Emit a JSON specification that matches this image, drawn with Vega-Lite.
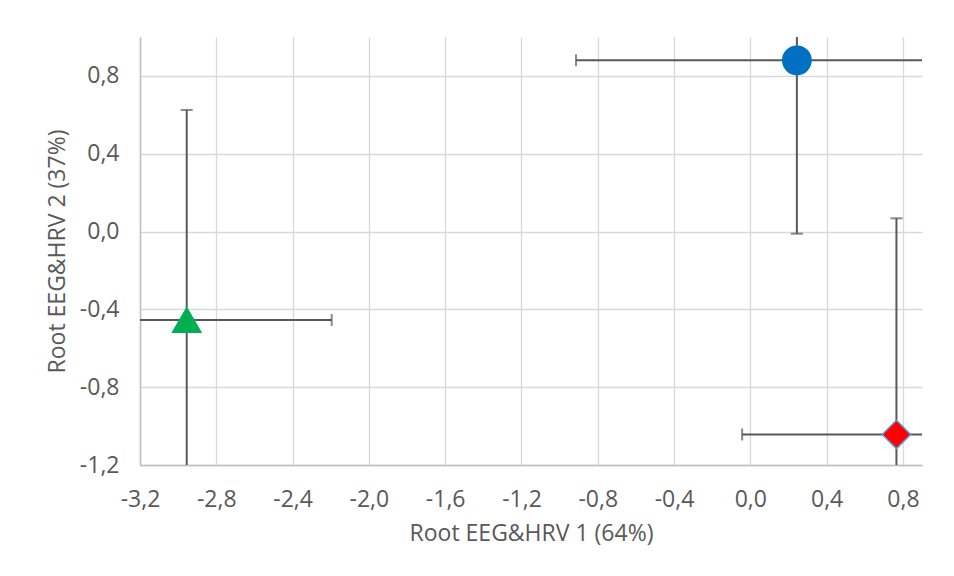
{
  "$schema": "https://vega.github.io/schema/vega-lite/v6.json",
  "width": 782,
  "height": 428,
  "autosize": {"type": "none"},
  "padding": {"left": 140, "top": 37, "right": 32, "bottom": 111},
  "background": "#ffffff",
  "config": {
    "view": {"stroke": null},
    "font": "Open Sans",
    "axis": {
      "labelFont": "Open Sans",
      "titleFont": "Open Sans",
      "labelFontSize": 23,
      "titleFontSize": 23,
      "titleFontWeight": "normal",
      "labelColor": "#595959",
      "titleColor": "#595959",
      "gridColor": "#D9D9D9",
      "gridWidth": 1.3,
      "domainColor": "#BFBFBF",
      "domainWidth": 1.5,
      "ticks": false,
      "labelFlush": false,
      "labelOverlap": false
    }
  },
  "data": {
    "values": [
      {"group": "A", "x": 0.244, "y": 0.88, "xlo": -0.914, "xhi": 1.402, "ylo": -0.011, "yhi": 1.771},
      {"group": "B", "x": 0.766, "y": -1.043, "xlo": -0.043, "xhi": 1.575, "ylo": -2.154, "yhi": 0.068},
      {"group": "C", "x": -2.955, "y": -0.455, "xlo": -3.715, "xhi": -2.195, "ylo": -1.535, "yhi": 0.625}
    ]
  },
  "encoding": {
    "x": {
      "field": "x", "type": "quantitative",
      "scale": {"domain": [-3.2, 0.9], "nice": false, "zero": false},
      "axis": {
        "title": "Root EEG&HRV 1 (64%)",
        "values": [-3.2, -2.8, -2.4, -2.0, -1.6, -1.2, -0.8, -0.4, 0, 0.4, 0.8],
        "labelExpr": "replace(replace(format(datum.value, '.1f'), '.', ','), '\u2212', '-')",
        "labelPadding": 23,
        "titlePadding": 11
      }
    },
    "y": {
      "field": "y", "type": "quantitative",
      "scale": {"domain": [-1.2, 1.0], "nice": false, "zero": false},
      "axis": {
        "title": "Root EEG&HRV 2 (37%)",
        "values": [-1.2, -0.8, -0.4, 0, 0.4, 0.8],
        "labelExpr": "replace(replace(format(datum.value, '.1f'), '.', ','), '\u2212', '-')",
        "labelPadding": 21,
        "titlePadding": 10
      }
    }
  },
  "layer": [
    {
      "mark": {"type": "rule", "color": "#595959", "strokeWidth": 2, "clip": true},
      "encoding": {"x": {"field": "xlo", "type": "quantitative"}, "x2": {"field": "xhi"}}
    },
    {
      "mark": {"type": "rule", "color": "#595959", "strokeWidth": 2, "clip": true},
      "encoding": {"y": {"field": "ylo", "type": "quantitative"}, "y2": {"field": "yhi"}}
    },
    {
      "mark": {"type": "tick", "color": "#595959", "orient": "vertical", "size": 12, "thickness": 2, "clip": true},
      "encoding": {"x": {"field": "xlo", "type": "quantitative"}}
    },
    {
      "mark": {"type": "tick", "color": "#595959", "orient": "vertical", "size": 12, "thickness": 2, "clip": true},
      "encoding": {"x": {"field": "xhi", "type": "quantitative"}}
    },
    {
      "mark": {"type": "tick", "color": "#595959", "orient": "horizontal", "size": 12, "thickness": 2, "clip": true},
      "encoding": {"y": {"field": "ylo", "type": "quantitative"}}
    },
    {
      "mark": {"type": "tick", "color": "#595959", "orient": "horizontal", "size": 12, "thickness": 2, "clip": true},
      "encoding": {"y": {"field": "yhi", "type": "quantitative"}}
    },
    {
      "mark": {"type": "point", "filled": true, "opacity": 1, "size": 800, "strokeWidth": 1.5},
      "encoding": {
        "shape": {"field": "group", "type": "nominal", "scale": {"domain": ["A", "B", "C"], "range": ["circle", "diamond", "triangle-up"]}, "legend": null},
        "fill": {"field": "group", "type": "nominal", "scale": {"domain": ["A", "B", "C"], "range": ["#0070C0", "#FF0000", "#00B050"]}, "legend": null},
        "stroke": {"field": "group", "type": "nominal", "scale": {"domain": ["A", "B", "C"], "range": ["#0070C0", "#5B9BD5", "#00B050"]}, "legend": null}
      }
    }
  ]
}
